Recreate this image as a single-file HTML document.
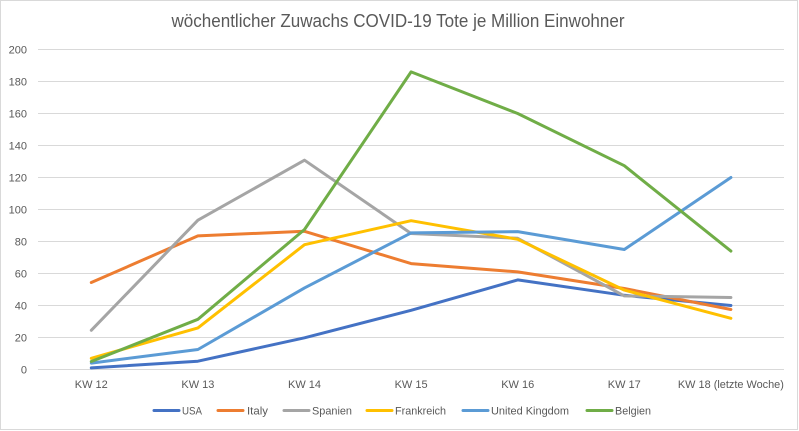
<!DOCTYPE html>
<html>
<head>
<meta charset="utf-8">
<style>
  html, body { margin: 0; padding: 0; background: #fff; }
  svg { display: block; }
  text { font-family: "Liberation Sans", Arial, sans-serif; fill: #595959; }
</style>
</head>
<body>
<svg width="799" height="431" viewBox="0 0 799 431" xmlns="http://www.w3.org/2000/svg">
  <rect x="0" y="0" width="799" height="431" fill="#fff"/>
  <rect x="0.5" y="0.5" width="797" height="429" fill="#fff" stroke="#d9d9d9" stroke-width="1"/>

  <text x="398" y="27" font-size="18" text-anchor="middle" textLength="453" lengthAdjust="spacingAndGlyphs">wöchentlicher Zuwachs COVID-19 Tote je Million Einwohner</text>

  <!-- gridlines -->
  <g stroke="#d9d9d9" stroke-width="1">
    <line x1="38" x2="784" y1="49.5" y2="49.5"/>
    <line x1="38" x2="784" y1="81.5" y2="81.5"/>
    <line x1="38" x2="784" y1="113.5" y2="113.5"/>
    <line x1="38" x2="784" y1="145.5" y2="145.5"/>
    <line x1="38" x2="784" y1="177.5" y2="177.5"/>
    <line x1="38" x2="784" y1="209.5" y2="209.5"/>
    <line x1="38" x2="784" y1="241.5" y2="241.5"/>
    <line x1="38" x2="784" y1="273.5" y2="273.5"/>
    <line x1="38" x2="784" y1="305.5" y2="305.5"/>
    <line x1="38" x2="784" y1="337.5" y2="337.5"/>
    <line x1="38" x2="784" y1="369.5" y2="369.5"/>
  </g>

  <!-- y labels -->
  <g font-size="11" text-anchor="end">
    <text x="27" y="53.5">200</text>
    <text x="27" y="85.5">180</text>
    <text x="27" y="117.5">160</text>
    <text x="27" y="149.5">140</text>
    <text x="27" y="181.5">120</text>
    <text x="27" y="213.5">100</text>
    <text x="27" y="245.5">80</text>
    <text x="27" y="277.5">60</text>
    <text x="27" y="309.5">40</text>
    <text x="27" y="341.5">20</text>
    <text x="27" y="373.5">0</text>
  </g>

  <!-- x labels -->
  <g font-size="11" text-anchor="middle">
    <text x="91.3" y="388">KW 12</text>
    <text x="197.9" y="388">KW 13</text>
    <text x="304.5" y="388">KW 14</text>
    <text x="411.1" y="388">KW 15</text>
    <text x="517.7" y="388">KW 16</text>
    <text x="624.3" y="388">KW 17</text>
    <text x="730.9" y="388" textLength="106" lengthAdjust="spacingAndGlyphs">KW 18 (letzte Woche)</text>
  </g>

  <!-- series -->
  <g fill="none" stroke-width="3" stroke-linejoin="round" stroke-linecap="round">
    <polyline stroke="#4472C4" points="91.3,367.9 197.9,361.2 304.5,337.8 411.1,310.3 517.7,279.9 624.3,295.3 730.9,305.5"/>
    <polyline stroke="#ED7D31" points="91.3,282.5 197.9,235.9 304.5,231.3 411.1,263.6 517.7,271.9 624.3,288.5 730.9,309.5"/>
    <polyline stroke="#A5A5A5" points="91.3,330.3 197.9,220.2 304.5,160.2 411.1,233.5 517.7,238.3 624.3,295.9 730.9,297.5"/>
    <polyline stroke="#FFC000" points="91.3,358.3 197.9,327.9 304.5,244.7 411.1,220.7 517.7,239.3 624.3,290.1 730.9,318.3"/>
    <polyline stroke="#5B9BD5" points="91.3,363.1 197.9,349.5 304.5,287.9 411.1,232.9 517.7,231.6 624.3,249.5 730.9,177.5"/>
    <polyline stroke="#70AD47" points="91.3,361.5 197.9,319.3 304.5,229.5 411.1,71.9 517.7,113.5 624.3,165.7 730.9,251.1"/>
  </g>

  <!-- legend -->
  <g stroke-width="3" stroke-linecap="round">
    <line x1="154" x2="179" y1="410.5" y2="410.5" stroke="#4472C4"/>
    <line x1="218" x2="243" y1="410.5" y2="410.5" stroke="#ED7D31"/>
    <line x1="284" x2="309" y1="410.5" y2="410.5" stroke="#A5A5A5"/>
    <line x1="367" x2="392" y1="410.5" y2="410.5" stroke="#FFC000"/>
    <line x1="463" x2="488" y1="410.5" y2="410.5" stroke="#5B9BD5"/>
    <line x1="587" x2="612" y1="410.5" y2="410.5" stroke="#70AD47"/>
  </g>
  <g font-size="11">
    <text x="182" y="414.5" textLength="20" lengthAdjust="spacingAndGlyphs">USA</text>
    <text x="247" y="414.5" textLength="21" lengthAdjust="spacingAndGlyphs">Italy</text>
    <text x="312" y="414.5" textLength="40" lengthAdjust="spacingAndGlyphs">Spanien</text>
    <text x="395" y="414.5" textLength="51" lengthAdjust="spacingAndGlyphs">Frankreich</text>
    <text x="491" y="414.5" textLength="78" lengthAdjust="spacingAndGlyphs">United Kingdom</text>
    <text x="615" y="414.5" textLength="36" lengthAdjust="spacingAndGlyphs">Belgien</text>
  </g>
</svg>
</body>
</html>
